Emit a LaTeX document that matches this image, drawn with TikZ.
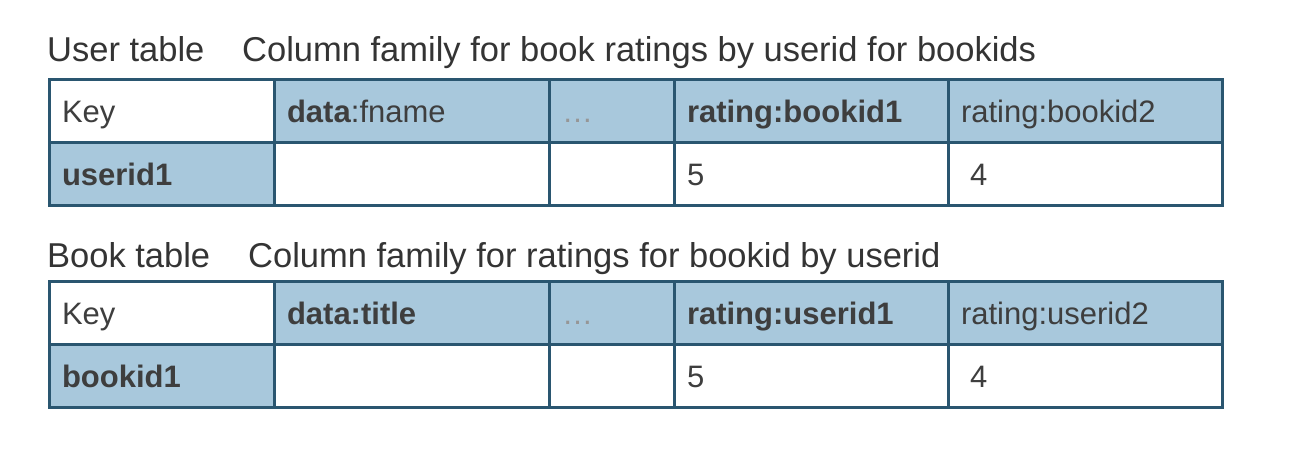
\documentclass[tikz,border=0pt]{standalone}
\usepackage{fontspec}
\setmainfont{Liberation Sans}

\definecolor{cellblue}{RGB}{168,200,220}
\definecolor{cellline}{RGB}{42,86,112}
\definecolor{celltext}{RGB}{62,62,62}
\definecolor{titletext}{RGB}{52,52,52}
\definecolor{dotgray}{RGB}{150,150,150}

\newcommand{\cellfont}{\fontsize{31}{36}\selectfont}
\newcommand{\titlefont}{\fontsize{34.5}{40}\selectfont}

\tikzset{
  cell/.style={rectangle, draw=cellline, line width=3pt, anchor=north west, outer sep=0pt,
    minimum height=63pt, inner xsep=13pt, inner ysep=0pt, text height=30pt, text depth=6pt,
    align=left, font=\cellfont, text=celltext},
  bluecell/.style={cell, fill=cellblue},
  whitecell/.style={cell, fill=white},
  colkey/.style={minimum width=225pt, text width=199pt},
  coldata/.style={minimum width=275pt, text width=249pt},
  coldots/.style={minimum width=125pt, text width=99pt},
  colrate/.style={minimum width=274pt, text width=248pt},
  tabletitle/.style={anchor=base west, inner sep=0pt, font=\titlefont, text=titletext}
}

\begin{document}
\begin{tikzpicture}[x=1pt, y=-1pt]
 \useasboundingbox[fill=white] (0,0) rectangle (1294,464);

 % user table
 \node[tabletitle] (utitle) at (47,61) {User table};
 \node[tabletitle] (ufamily) at (242,61) {Column family for book ratings by userid for bookids};

 \node[whitecell, colkey] (ukey) at (49,79) {Key};
 \node[bluecell, coldata] (udata) at (274,79) {\textbf{data}:fname};
 \node[bluecell, coldots] (udots) at (549,79) {\textcolor{dotgray}{\ldots}};
 \node[bluecell, colrate] (urate1) at (674,79) {\textbf{rating:bookid1}};
 \node[bluecell, colrate] (urate2) at (948,79) {rating:bookid2};

 \node[bluecell, colkey] (urow) at (49,142) {\textbf{userid1}};
 \node[whitecell, coldata] (urowdata) at (274,142) {};
 \node[whitecell, coldots] (urowdots) at (549,142) {};
 \node[whitecell, colrate] (urowrate1) at (674,142) {5};
 \node[whitecell, colrate] (urowrate2) at (948,142) {\hspace*{9pt}4};

 % book table
 \node[tabletitle] (btitle) at (47,267) {Book table};
 \node[tabletitle] (bfamily) at (248,267) {Column family for ratings for bookid by userid};

 \node[whitecell, colkey] (bkey) at (49,281) {Key};
 \node[bluecell, coldata] (bdata) at (274,281) {\textbf{data:title}};
 \node[bluecell, coldots] (bdots) at (549,281) {\textcolor{dotgray}{\ldots}};
 \node[bluecell, colrate] (brate1) at (674,281) {\textbf{rating:userid1}};
 \node[bluecell, colrate] (brate2) at (948,281) {rating:userid2};

 \node[bluecell, colkey] (brow) at (49,344) {\textbf{bookid1}};
 \node[whitecell, coldata] (browdata) at (274,344) {};
 \node[whitecell, coldots] (browdots) at (549,344) {};
 \node[whitecell, colrate] (browrate1) at (674,344) {5};
 \node[whitecell, colrate] (browrate2) at (948,344) {\hspace*{9pt}4};

\end{tikzpicture}
\end{document}
